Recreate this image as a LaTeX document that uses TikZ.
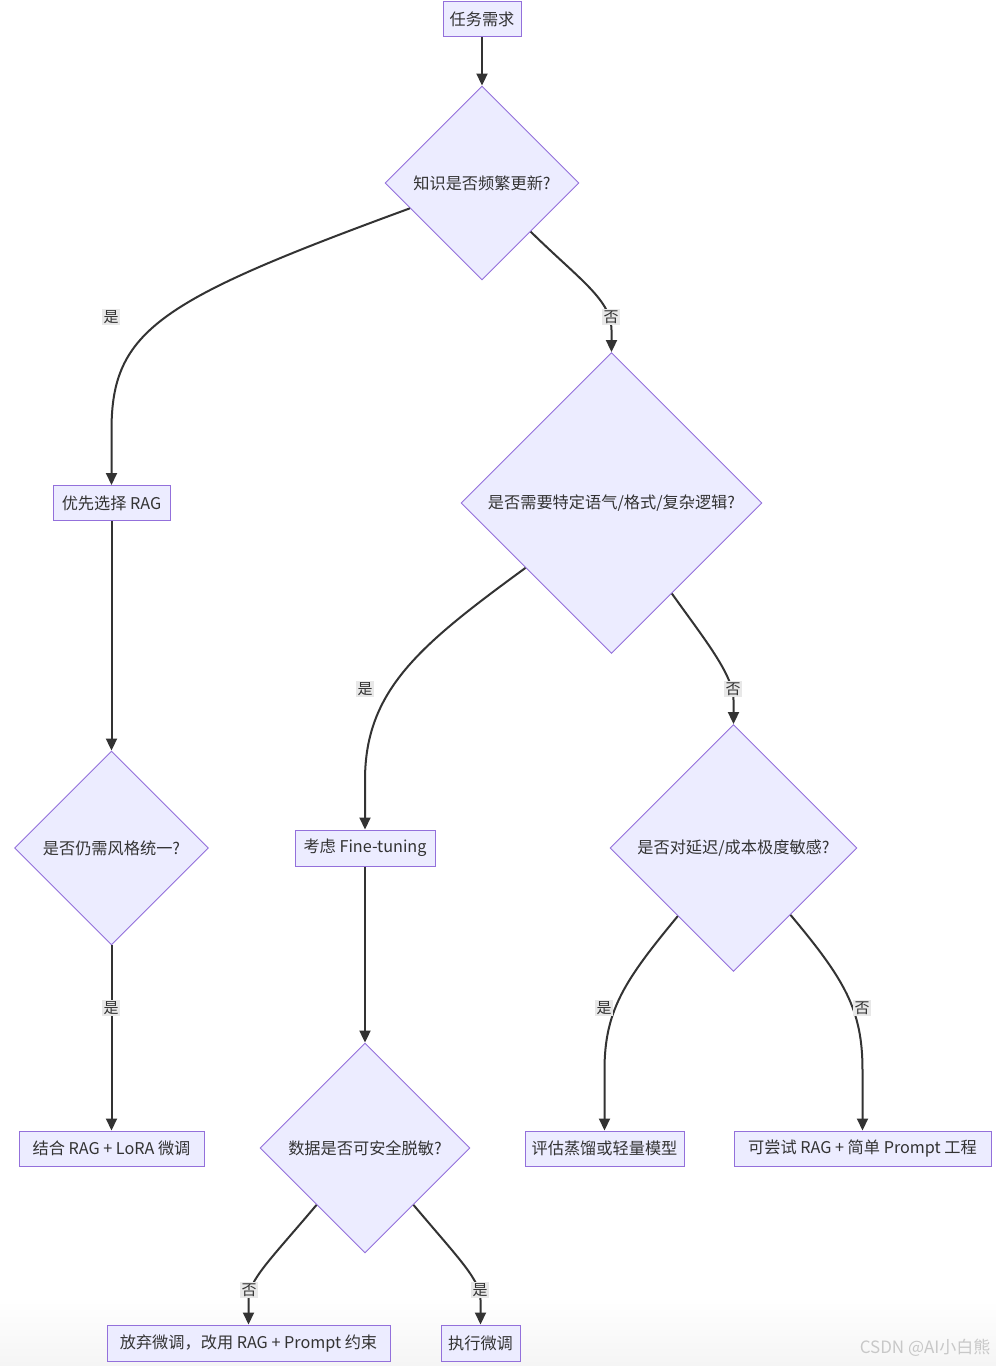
\documentclass[tikz,border=0pt]{standalone}
\usepackage{fontspec}
\setmainfont{Noto Sans CJK SC}
\usetikzlibrary{shapes.geometric,arrows.meta,calc}
\definecolor{nodefill}{HTML}{ECECFF}
\definecolor{nodeline}{HTML}{9370DB}
\definecolor{edgecol}{HTML}{333333}
\definecolor{lblbg}{HTML}{E8E8E8}
\definecolor{txtcol}{HTML}{333333}
\definecolor{wmcol}{HTML}{C8C8C8}
\begin{document}
\begin{tikzpicture}[x=1pt,y=-1pt,
  font=\fontsize{16.2}{19}\selectfont, text=txtcol,
  procbox/.style={draw=nodeline,fill=nodefill,line width=1pt,rectangle,inner sep=0pt,minimum height=35},
  decide/.style={draw=nodeline,fill=nodefill,line width=0.9pt,diamond,aspect=1,inner sep=0pt},
  flow/.style={draw=edgecol,line width=2pt,-{Triangle[width=11pt,length=12pt]}},
  lbl/.style={fill=lblbg,inner sep=1.5pt,font=\fontsize{15}{17}\selectfont}]
\useasboundingbox (0,0) rectangle (996,1366);
\fill[white] (0,0) rectangle (996,1366);
\fill[top color=white,bottom color=black!4] (0,1300) rectangle (996,1366);

% nodes
\node[procbox,minimum width=78] (task) at (482,19) {任务需求};
\node[decide,minimum size=194] (d1) at (482,183) {知识是否频繁更新?};
\node[procbox,minimum width=117] (rag) at (111.5,503) {优先选择 RAG};
\node[decide,minimum size=301] (d2) at (611.5,503) {是否需要特定语气/格式/复杂逻辑?};
\node[decide,minimum size=194] (d3) at (111.5,848) {是否仍需风格统一?};
\node[procbox,minimum width=140,minimum height=36] (ft) at (365,848) {考虑 Fine-tuning};
\node[decide,minimum size=247] (d4) at (733.5,848) {是否对延迟/成本极度敏感?};
\node[procbox,minimum width=185] (comb) at (111.5,1148.5) {结合 RAG + LoRA 微调};
\node[decide,minimum size=210] (d5) at (365,1148) {数据是否可安全脱敏?};
\node[procbox,minimum width=159] (eval) at (604.5,1148.5) {评估蒸馏或轻量模型};
\node[procbox,minimum width=257] (try) at (862.5,1148.5) {可尝试 RAG + 简单 Prompt 工程};
\node[procbox,minimum width=283,minimum height=36] (aband) at (248.5,1343) {放弃微调，改用 RAG + Prompt 约束};
\node[procbox,minimum width=79,minimum height=36] (exec) at (480.5,1343) {执行微调};

% edges
\draw[flow] (task) -- (d1);
\draw[flow] ($(d1.west)!0.26!(d1.south)$) .. controls (160,300) and (111.5,330) .. (111.5,430) -- (rag.north);
\draw[flow] ($(d1.east)!0.5!(d1.south)$) .. controls (580,280) and (611.5,300) .. (611.5,330) -- (d2.north);
\draw[flow] (rag.south) -- (d3.north);
\draw[flow] ($(d2.west)!0.43!(d2.south)$) .. controls (420,645) and (365,690) .. (365,780) -- (ft.north);
\draw[flow] ($(d2.east)!0.6!(d2.south)$) .. controls (705,640) and (733.5,675) .. (733.5,700) -- (d4.north);
\draw[flow] (d3.south) -- (comb.north);
\draw[flow] (ft.south) -- (d5.north);
\draw[flow] ($(d4.west)!0.55!(d4.south)$) .. controls (625,980) and (604.5,1010) .. (604.5,1070) -- (eval.north);
\draw[flow] ($(d4.east)!0.54!(d4.south)$) .. controls (845,980) and (862.5,1010) .. (862.5,1070) -- (try.north);
\draw[flow] ($(d5.west)!0.54!(d5.south)$) .. controls (270,1260) and (248.5,1280) .. (248.5,1300) -- (aband.north);
\draw[flow] ($(d5.east)!0.54!(d5.south)$) .. controls (460,1260) and (480.5,1280) .. (480.5,1300) -- (exec.north);

% edge labels
\node[lbl] (l1) at (111,317) {是};
\node[lbl] (l2) at (611,317) {否};
\node[lbl] (l3) at (365,689) {是};
\node[lbl] (l4) at (733,689) {否};
\node[lbl] (l5) at (111,1008) {是};
\node[lbl] (l6) at (604,1008) {是};
\node[lbl] (l7) at (862,1008) {否};
\node[lbl] (l8) at (249,1290) {否};
\node[lbl] (l9) at (480,1290) {是};

% watermark
\node[text=wmcol,anchor=east,font=\fontsize{17}{19}\selectfont] (wm) at (994,1348) {CSDN @AI小白熊};
\end{tikzpicture}
\end{document}
